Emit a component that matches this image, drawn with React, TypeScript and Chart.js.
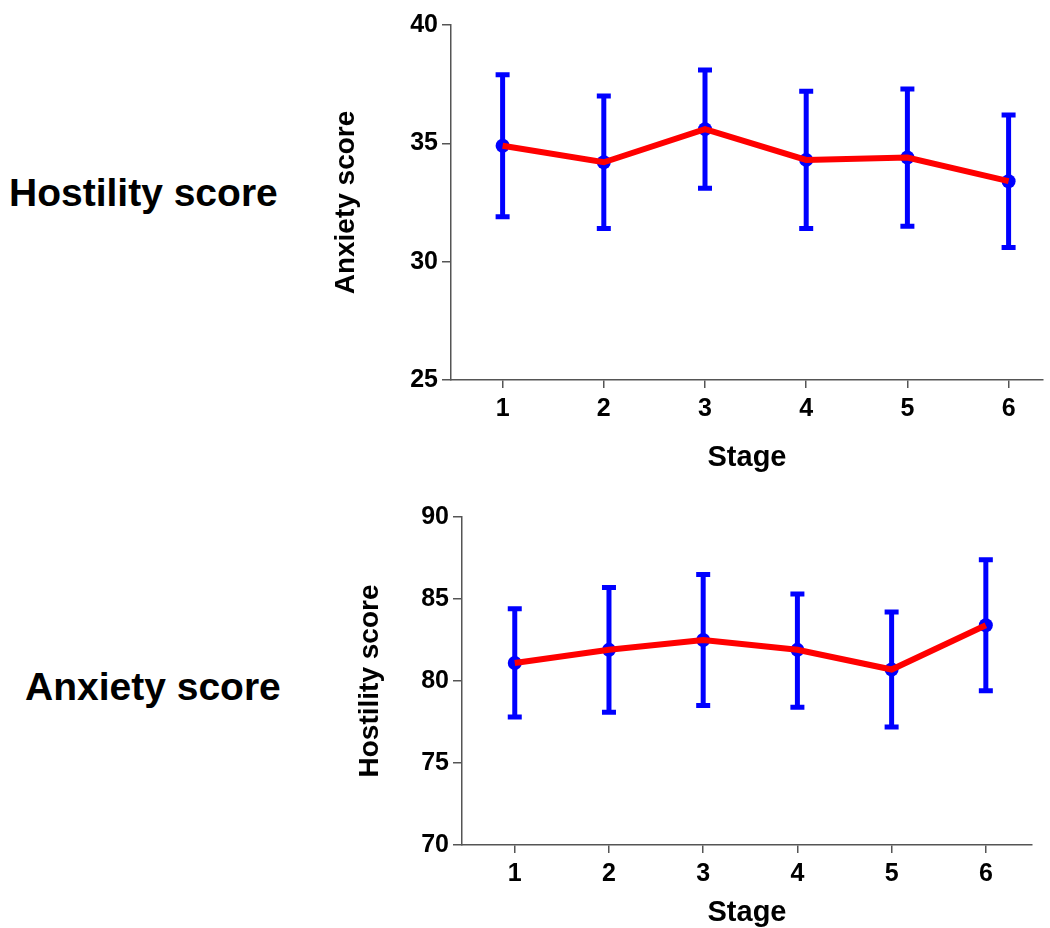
import React, { useEffect, useRef } from "react";
import { Chart, registerables } from "chart.js";

Chart.register(...registerables);

// ---- data ----
const stages = [1, 2, 3, 4, 5, 6];

// Top panel (axis title "Anxiety score")
const anxietyMean = [34.9, 34.2, 35.6, 34.3, 34.4, 33.4];
const anxietyLow = [31.9, 31.4, 33.1, 31.4, 31.5, 30.6];
const anxietyHigh = [37.9, 37.0, 38.1, 37.2, 37.3, 36.2];
const anxietyTicks = [25, 30, 35, 40];

// Bottom panel (axis title "Hostility score")
const hostilityMean = [81.1, 81.9, 82.5, 81.9, 80.7, 83.4];
const hostilityLow = [77.8, 78.1, 78.5, 78.4, 77.2, 79.4];
const hostilityHigh = [84.4, 85.7, 86.5, 85.3, 84.2, 87.4];
const hostilityTicks = [70, 75, 80, 85, 90];

const xLabel = "Stage";
const topAxisTitle = "Anxiety score";
const bottomAxisTitle = "Hostility score";
const topSideLabel = "Hostility score";
const bottomSideLabel = "Anxiety score";

const BLUE = "#0000ff";
const RED = "#ff0000";
const AXIS = "#555555";
const FONT = '"Liberation Sans", Arial, sans-serif';

const errorBarPlugin = {
  id: "errorBars",
  beforeDatasetsDraw(chart: any, _args: any, opts: any) {
    const { low, high } = opts;
    const xs = chart.scales.x;
    const ys = chart.scales.y;
    const ctx = chart.ctx;
    ctx.save();
    ctx.strokeStyle = BLUE;
    ctx.lineWidth = 5;
    ctx.lineCap = "butt";
    for (let i = 0; i < stages.length; i++) {
      const x = xs.getPixelForValue(stages[i]);
      const yl = ys.getPixelForValue(low[i]);
      const yh = ys.getPixelForValue(high[i]);
      ctx.beginPath();
      ctx.moveTo(x, yl);
      ctx.lineTo(x, yh);
      ctx.stroke();
      ctx.beginPath();
      ctx.moveTo(x - 7, yl);
      ctx.lineTo(x + 7, yl);
      ctx.moveTo(x - 7, yh);
      ctx.lineTo(x + 7, yh);
      ctx.stroke();
    }
    ctx.restore();
  },
};

type PanelProps = {
  left: number;
  top: number;
  width: number;
  height: number;
  mean: number[];
  low: number[];
  high: number[];
  yTicks: number[];
  yTitle: string;
  xMin: number;
  xMax: number;
  yWidth: number;
  xHeight: number;
  padTop: number;
  padRight: number;
  yTitlePad: number;
  xTitlePad: number;
};

function Panel(p: PanelProps) {
  const ref = useRef<HTMLCanvasElement>(null);
  useEffect(() => {
    if (!ref.current) return;
    const pts = stages.map((s, i) => ({ x: s, y: p.mean[i] }));
    const chart = new Chart(ref.current, {
      type: "line",
      data: {
        datasets: [
          {
            type: "scatter",
            data: pts,
            pointRadius: 7,
            pointBackgroundColor: BLUE,
            pointBorderWidth: 0,
            showLine: false,
            order: 2,
          } as any,
          {
            type: "line",
            data: pts,
            borderColor: RED,
            borderWidth: 6,
            pointRadius: 0,
            tension: 0,
            order: 1,
          },
        ],
      },
      options: {
        animation: false,
        responsive: false,
        maintainAspectRatio: false,
        layout: { padding: { top: p.padTop, right: p.padRight, left: 0, bottom: 0 } },
        plugins: {
          legend: { display: false },
          tooltip: { enabled: false },
          errorBars: { low: p.low, high: p.high },
        } as any,
        scales: {
          x: {
            type: "linear",
            min: p.xMin,
            max: p.xMax,
            afterBuildTicks: (s: any) => {
              s.ticks = stages.map((v) => ({ value: v }));
            },
            afterFit: (s: any) => {
              s.height = p.xHeight;
            },
            grid: { drawOnChartArea: false, drawTicks: true, tickLength: 8, color: AXIS, lineWidth: 1.5 },
            border: { display: true, color: AXIS, width: 1.5 },
            ticks: {
              color: "#000",
              font: { family: FONT, weight: "bold", size: 25 },
              padding: 6,
              maxRotation: 0,
              callback: (v: any) => String(v),
            },
            title: {
              display: true,
              text: xLabel,
              color: "#000",
              font: { family: FONT, weight: "bold", size: 29, lineHeight: 1 },
              padding: { top: 0, bottom: p.xTitlePad },
            },
          },
          y: {
            type: "linear",
            min: p.yTicks[0],
            max: p.yTicks[p.yTicks.length - 1],
            afterBuildTicks: (s: any) => {
              s.ticks = p.yTicks.map((v) => ({ value: v }));
            },
            afterFit: (s: any) => {
              s.width = p.yWidth;
            },
            grid: { drawOnChartArea: false, drawTicks: true, tickLength: 9, color: AXIS, lineWidth: 1.5 },
            border: { display: true, color: AXIS, width: 1.5 },
            ticks: {
              color: "#000",
              font: { family: FONT, weight: "bold", size: 25 },
              padding: 4,
            },
            title: {
              display: true,
              text: p.yTitle,
              color: "#000",
              font: { family: FONT, weight: "bold", size: 28, lineHeight: 1 },
              padding: { top: p.yTitlePad, bottom: 0 },
            },
          },
        },
      },
      plugins: [errorBarPlugin],
    } as any);
    return () => chart.destroy();
  }, []);
  return (
    <canvas
      ref={ref}
      width={p.width}
      height={p.height}
      style={{ position: "absolute", left: p.left, top: p.top, width: p.width, height: p.height }}
    />
  );
}

const sideStyle: React.CSSProperties = {
  position: "absolute",
  fontFamily: FONT,
  fontWeight: "bold",
  fontSize: 39,
  lineHeight: "39px",
  color: "#000",
  whiteSpace: "nowrap",
};

export default function App() {
  return (
    <div style={{ position: "absolute", left: 0, top: 0, width: 1050, height: 928, background: "#fff", overflow: "hidden" }}>
      <div style={{ ...sideStyle, left: 9, top: 173 }}>{topSideLabel}</div>
      <div style={{ ...sideStyle, left: 25, top: 667 }}>{bottomSideLabel}</div>
      <Panel
        left={320}
        top={0}
        width={730}
        height={480}
        mean={anxietyMean}
        low={anxietyLow}
        high={anxietyHigh}
        yTicks={anxietyTicks}
        yTitle={topAxisTitle}
        xMin={0.49}
        xMax={6.34}
        yWidth={131}
        xHeight={100}
        padTop={25}
        padRight={3}
        yTitlePad={12}
        xTitlePad={8}
      />
      <Panel
        left={340}
        top={490}
        width={710}
        height={438}
        mean={hostilityMean}
        low={hostilityLow}
        high={hostilityHigh}
        yTicks={hostilityTicks}
        yTitle={bottomAxisTitle}
        xMin={0.44}
        xMax={6.49}
        yWidth={122}
        xHeight={83}
        padTop={27}
        padRight={18}
        yTitlePad={16}
        xTitlePad={1}
      />
    </div>
  );
}
